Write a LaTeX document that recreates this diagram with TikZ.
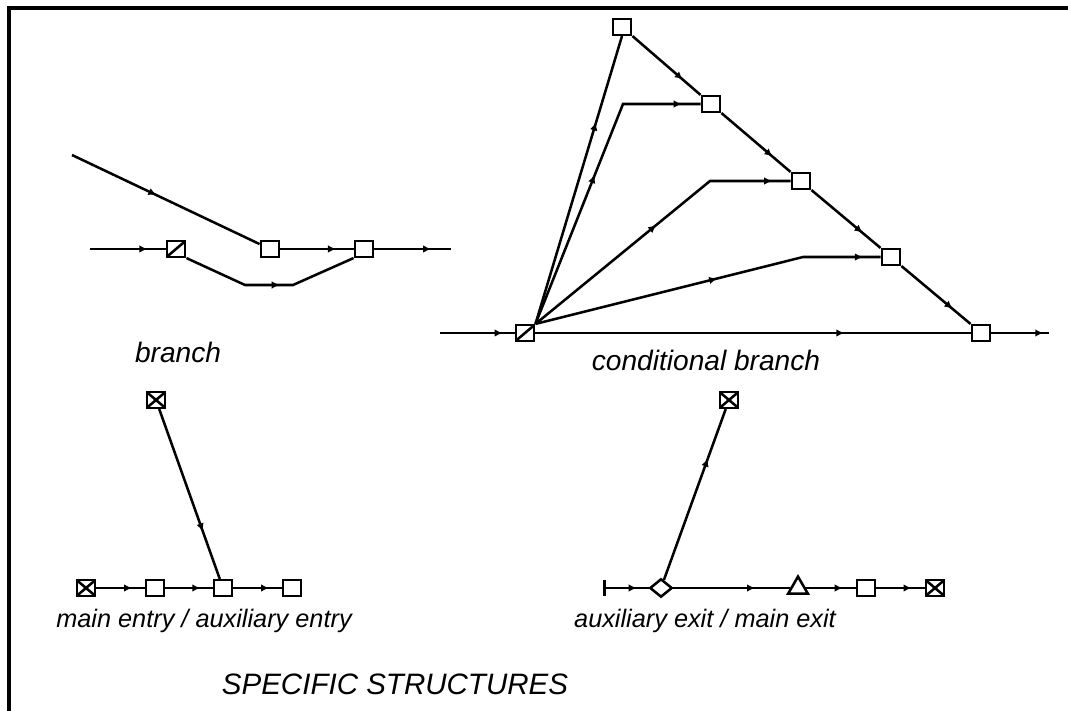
\documentclass[tikz,border=0pt]{standalone}
\usepackage{fontspec}
\setmainfont{Liberation Sans}
\usetikzlibrary{arrows.meta,shapes.geometric,decorations.markings}

\begin{document}
\begin{tikzpicture}[x=0.025cm,y=-0.025cm,line width=1.8pt,
  blk/.style={draw,fill=white,rectangle,inner sep=0pt,minimum width=0.46cm,minimum height=0.39cm},
  splitblk/.style={blk,path picture={\draw (path picture bounding box.south west)--(path picture bounding box.north east);}},
  endblk/.style={blk,path picture={\draw (path picture bounding box.south west)--(path picture bounding box.north east)
      (path picture bounding box.north west)--(path picture bounding box.south east);}},
  gate/.style={draw,fill=white,diamond,inner sep=0pt,minimum width=0.56cm,minimum height=0.46cm},
  tri/.style={draw,fill=white,regular polygon,regular polygon sides=3,inner sep=0pt,minimum size=0.57cm},
  flow/.style={postaction={decorate},decoration={markings,mark=at position #1 with {\arrow{Latex[length=2mm,width=1.9mm]}}}},
  flowtwo/.style 2 args={postaction={decorate},decoration={markings,
      mark=at position #1 with {\arrow{Latex[length=2mm,width=1.9mm]}},
      mark=at position #2 with {\arrow{Latex[length=2mm,width=1.9mm]}}}},
  lbl/.style={font=\fontsize{20}{24}\selectfont\itshape},
  sublbl/.style={font=\fontsize{18}{22}\selectfont\itshape}]
  \useasboundingbox (0,0) rectangle (1068,711);
  % frame
  \draw[line width=3.2pt] (9,711) -- (9,8) -- (1068,8);

  % branch
  \coordinate (in1) at (90,249);
  \coordinate (top1) at (72,155);
  \coordinate (b1) at (245,285);
  \coordinate (b2) at (293,285);
  \coordinate (out1) at (451,249);
  \node[splitblk] (split1) at (176,249) {};
  \node[blk] (sq1) at (270,249) {};
  \node[blk] (sq2) at (364,249) {};
  \draw[flow=0.76] (in1) -- (split1);
  \draw[flow=0.45] (top1) -- (sq1);
  \draw[flow=0.76] (sq1) -- (sq2);
  \draw[flow=0.74] (sq2) -- (out1);
  \draw[flow=0.555] (split1.south east) -- (b1) -- (b2) -- (sq2.south west);
  \node[lbl] (lbranch) at (178,352) {branch};

  % conditional branch
  \coordinate (in2) at (440,333);
  \coordinate (k2) at (623,104);
  \coordinate (k3) at (710,181);
  \coordinate (k4) at (803,257);
  \coordinate (out2) at (1049,333);
  \node[splitblk] (split2) at (525,333) {};
  \node[blk] (c1) at (622,27) {};
  \node[blk] (c2) at (711,104) {};
  \node[blk] (c3) at (801,181) {};
  \node[blk] (c4) at (891,257) {};
  \node[blk] (c5) at (981,333) {};
  \draw[flow=0.84] (in2) -- (split2);
  \draw[flow=0.71] (split2) -- (c5);
  \draw[flow=0.9] (c5) -- (out2);
  \foreach \a/\b in {c1/c2,c2/c3,c3/c4,c4/c5}
    \draw[flow=0.74] (\a.south east) -- (\b.north west);
  \draw[flow=0.70] (split2.north east) -- (c1.south);
  \draw[flowtwo={0.51}{0.94}] (split2.north east) -- (k2) -- (c2);
  \draw[flowtwo={0.51}{0.94}] (split2.north east) -- (k3) -- (c3);
  \draw[flowtwo={0.53}{0.95}] (split2.north east) -- (k4) -- (c4);
  \node[lbl] (lcond) at (706,360) {conditional branch};

  % main entry / auxiliary entry
  \node[endblk] (x1) at (156,400) {};
  \node[endblk] (e0) at (86,588) {};
  \node[blk] (s1) at (155,588) {};
  \node[blk] (s2) at (223,588) {};
  \node[blk] (s3) at (292,588) {};
  \foreach \a/\b in {e0/s1,s1/s2,s2/s3}
    \draw[flow=0.74] (\a) -- (\b);
  \draw[flow=0.72] (x1) -- (s2);
  \node[sublbl] (lentry) at (204,621) {main entry / auxiliary entry};

  % auxiliary exit / main exit
  \coordinate (tee) at (603,588);
  \node[gate] (dia) at (661,588) {};
  \node[endblk] (x2) at (729,400) {};
  \node[tri] (tr) at (798,588) {};
  \node[blk] (s4) at (866,588) {};
  \node[endblk] (x3) at (935,588) {};
  \draw[{Bar[width=0.42cm]}-,flow=0.74] (tee) -- (dia);
  \draw[flow=0.71] (dia) -- (x2);
  \draw[flow=0.70] (dia) -- (tr);
  \draw[flow=0.74] (tr) -- (s4);
  \draw[flow=0.73] (s4) -- (x3);
  \node[sublbl] (lexit) at (705,621) {auxiliary exit / main exit};

  \node[lbl,font=\fontsize{21}{25}\selectfont\itshape] (ltitle) at (395,684) {SPECIFIC STRUCTURES};
\end{tikzpicture}
\end{document}
